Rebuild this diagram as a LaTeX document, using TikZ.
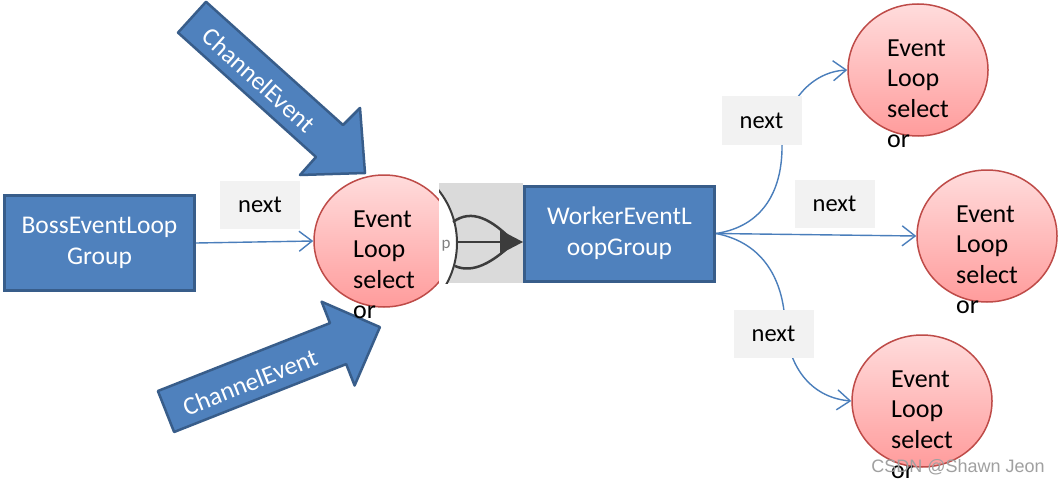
\documentclass[tikz,border=0pt]{standalone}
\usepackage{fontspec}
\setmainfont{Carlito}
\newfontfamily\wmfont{Liberation Sans}
\usetikzlibrary{shapes.geometric,arrows.meta,calc}
\definecolor{boxblue}{HTML}{4F81BD}
\definecolor{boxedge}{HTML}{385D8A}
\definecolor{linkblue}{HTML}{4A7EBB}
\definecolor{pinktop}{HTML}{FFDCDC}
\definecolor{pinkbot}{HTML}{FF9C9C}
\definecolor{pinkedge}{HTML}{BE4B48}
\definecolor{labelgray}{HTML}{F2F2F2}
\definecolor{imggray}{HTML}{DADADA}
\definecolor{glyphdark}{HTML}{3C3C3C}
\definecolor{wmgray}{HTML}{A0A0A0}
\begin{document}
\begin{tikzpicture}[x=1pt,y=-1pt,
 bigfont/.style={font=\fontsize{25.5}{31}\selectfont},
 groupbox/.style={draw=boxedge, line width=3pt, fill=boxblue, text=white, minimum width=190pt, minimum height=95pt, align=center, inner sep=0pt, bigfont},
 loopnode/.style={ellipse, draw=pinkedge, line width=1.5pt, top color=pinktop, bottom color=pinkbot, minimum width=140pt, minimum height=132pt, inner sep=0pt},
 looptext/.style={anchor=north west, inner sep=0pt, align=left, font=\fontsize{26}{30.5}\selectfont},
 nextlabel/.style={fill=labelgray, minimum width=80pt, minimum height=48pt, inner sep=0pt, font=\fontsize{24.5}{30}\selectfont},
 link/.style={draw=linkblue, line width=1.4pt, -{Straight Barb[length=13pt,width=20pt]}},
 channel/.style={draw=boxedge, line width=2.5pt, fill=boxblue, line join=round},
 channeltext/.style={text=white, bigfont, inner sep=0pt},
 glyph/.style={draw=glyphdark, line width=2.5pt},
]
\fill[white] (0,0) rectangle (1062,484);
\useasboundingbox (0,0) rectangle (1062,484);

% big ChannelEvent arrows
\draw[channel] (178,32.6) -- (206,1.8) -- (343,125) -- (360,108) -- (365,173) -- (300,175) -- (316,157) -- cycle;
\node[channeltext, rotate=-42] (ce1) at (259,80) {ChannelEvent};
\draw[channel] (157.9,391) -- (330,323.1) -- (321.6,301.7) -- (379.9,327.1) -- (354.6,385.5) -- (346.2,364.1) -- (174.1,432) -- cycle;
\node[channeltext, rotate=21.5] (ce2) at (250,382) {ChannelEvent};

% boss selector
\node[loopnode] (sel) at (384,241) {};

% pasted image fragment
\fill[imggray] (439,183) rectangle (523,283);
\begin{scope}
\clip (439,183) rectangle (523,283);
\draw[fill=white, draw=glyphdark, line width=2pt] (372,243) circle[radius=85];
\node[text=gray, font=\fontsize{17}{17}\selectfont, inner sep=0pt] (pp) at (446,246) {p};
\end{scope}
\draw[glyph] (456,242) -- (505,242);
\draw[glyph] (453,222) .. controls (472,208) and (492,220) .. (512,240);
\draw[glyph] (455,266) .. controls (473,274) and (493,262) .. (512,244);
\fill[glyphdark] (500,230) -- (523,242) -- (500,254) -- cycle;

% groups
\node[groupbox] (boss) at (99.5,243) {BossEventLoop\\Group};
\node[groupbox] (worker) at (619.5,233.5) {WorkerEventL\\oopGroup};

% worker selectors
\node[loopnode] (sel1) at (918,70) {};
\node[loopnode] (sel2) at (987,236) {};
\node[loopnode] (sel3) at (922,401) {};

% connectors
\draw[link] (boss.east) -- (sel.west);
\draw[link] (worker.east) .. controls (765,226) and (782,188) .. (782,147) .. controls (782,108) and (808,72) .. (sel1.west);
\draw[link] (worker.east) -- (sel2.west);
\draw[link] (worker.east) .. controls (765,243) and (783,282) .. (785,322) .. controls (788,372) and (815,398) .. (sel3.west);

% labels
\node[nextlabel] (n0) at (260,205) {next};
\node[nextlabel] (n1) at (761.5,120.5) {next};
\node[nextlabel] (n2) at (834.5,204) {next};
\node[nextlabel] (n3) at (773.5,333.5) {next};

% selector texts
\node[looptext] (t0) at ($(sel.center)+(-31,-30.7)$) {Event\\Loop\\select\\or};
\node[looptext] (t1) at ($(sel1.center)+(-31,-30.7)$) {Event\\Loop\\select\\or};
\node[looptext] (t2) at ($(sel2.center)+(-31,-30.7)$) {Event\\Loop\\select\\or};
\node[looptext] (t3) at ($(sel3.center)+(-31,-30.7)$) {Event\\Loop\\select\\or};

% watermark
\node[text=wmgray, font=\wmfont\fontsize{18}{18}\selectfont, inner sep=0pt] (wm) at (958,467) {CSDN @Shawn Jeon};
\end{tikzpicture}
\end{document}
